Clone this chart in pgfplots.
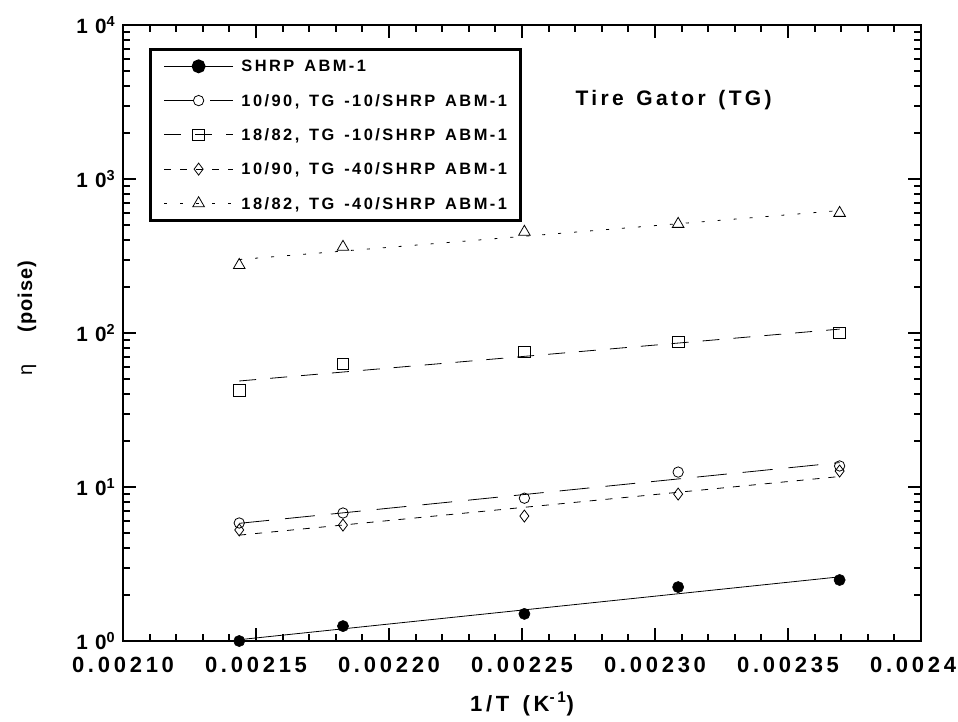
\documentclass[border=0pt]{standalone}
\usepackage{fontspec}
\setmainfont{Liberation Sans}[LetterSpace=12]
\newfontfamily\etafont{Liberation Sans}
\usepackage{pgfplots}
\pgfplotsset{compat=1.18}
\newcommand\xtickfont{\fontsize{16.5}{18}\selectfont\bfseries\addfontfeatures{LetterSpace=17}}
\newcommand\ytickfont{\fontsize{15.5}{18}\selectfont\bfseries}
\newcommand\legfont{\fontsize{12.3}{14}\selectfont\bfseries\addfontfeatures{LetterSpace=15}}
\newcommand\titlefont{\fontsize{15.75}{18}\selectfont\bfseries\addfontfeatures{LetterSpace=16}}
\newcommand\ws{\hspace{0.6em}}
\pgfplotsset{
  legA/.style={legend image code/.code={\draw[line width=0.6pt, solid] (0pt,0pt) -- (51.75pt,0pt); \draw[##1] plot coordinates {(25.9pt,0pt)};}},
  legB/.style={legend image code/.code={\draw[line width=0.6pt, dash pattern=on 22.5pt off 12pt] (0pt,0pt) -- (51.75pt,0pt); \draw[##1] plot coordinates {(25.9pt,0pt)};}},
  legC/.style={legend image code/.code={\draw[line width=0.6pt, dash pattern=on 12.75pt off 10.5pt] (0pt,0pt) -- (51.75pt,0pt); \draw[##1] plot coordinates {(25.9pt,0pt)};}},
  legD/.style={legend image code/.code={\draw[line width=0.6pt, dash pattern=on 5.25pt off 6.75pt] (0pt,0pt) -- (51.75pt,0pt); \draw[##1] plot coordinates {(25.9pt,0pt)};}},
  legE/.style={legend image code/.code={\draw[line width=0.6pt, dash pattern=on 2.25pt off 9.75pt] (0pt,0pt) -- (51.75pt,0pt); \draw[##1] plot coordinates {(25.9pt,0pt)};}},
}
\begin{document}
\begin{tikzpicture}
\begin{axis}[
  name=ax,
  scale only axis,
  width=598.5pt, height=462pt,
  xmin=0.0021, xmax=0.0024,
  ymode=log, ymin=1, ymax=10000,
  xtick={0.0021,0.00215,0.0022,0.00225,0.0023,0.00235,0.0024},
  xticklabels={0.00210,0.00215,0.00220,0.00225,0.00230,0.00235,0.00240},
  scaled x ticks=false,
  minor x tick num=4,
  ytick={1,10,100,1000,10000},
  yticklabels={1\hspace{0.35em}0\textsuperscript{0},1\hspace{0.35em}0\textsuperscript{1},1\hspace{0.35em}0\textsuperscript{2},1\hspace{0.35em}0\textsuperscript{3},1\hspace{0.35em}0\textsuperscript{4}},
  tick align=inside,
  major tick length=9.75pt,
  minor tick length=5.25pt,
  every major tick/.style={black, line width=1.8pt},
  every minor tick/.style={black, line width=1.5pt},
  axis line style={line width=2pt},
  xticklabel style={font=\xtickfont, anchor=base, yshift=-23.25pt},
  yticklabel style={font=\ytickfont, anchor=east, inner sep=0pt, xshift=-5.5pt},
  xlabel={1/T\hspace{0.6em}(K\textsuperscript{-1})},
  xlabel style={font=\xtickfont, at={(axis description cs:0.5,0)}, anchor=base, yshift=-52.5pt},
  ylabel={{\etafont\mdseries η}\hspace{1.6em}(poise)},
  ylabel style={font=\fontsize{15}{18}\selectfont\bfseries\addfontfeatures{LetterSpace=5}, at={(axis description cs:-0.1203,0.524)}, anchor=center},
  legend style={
    at={(0.0326,0.9627)}, anchor=north west,
    draw=black, line width=2pt,
    inner xsep=10pt, inner ysep=6.5pt,
    row sep=13.2pt, column sep=6pt,
    font=\legfont,
    nodes={inner sep=0pt, text height=10.5pt, text depth=2pt},
  },
  legend cell align=left,
]
% fitted lines
\addplot[black, line width=0.6pt, solid, forget plot] coordinates {(0.0021437,1.02) (0.0023694,2.61)};
\addplot[black, line width=0.6pt, dash pattern=on 22.5pt off 12pt, forget plot] coordinates {(0.0021437,5.81) (0.0023694,14.4)};
\addplot[black, line width=0.6pt, dash pattern=on 12.75pt off 10.5pt, forget plot] coordinates {(0.0021437,48.8) (0.0023694,106)};
\addplot[black, line width=0.6pt, dash pattern=on 5.25pt off 6.75pt, forget plot] coordinates {(0.0021437,4.87) (0.0023694,11.7)};
\addplot[black, line width=0.6pt, dash pattern=on 2.25pt off 9.75pt, forget plot] coordinates {(0.0021437,300) (0.0023694,624)};
% data
\addplot[only marks, mark=*, mark size=4.2pt, black, fill=black, legA]
  coordinates {(0.0021437,1.00) (0.0021827,1.25) (0.0022509,1.50) (0.0023087,2.24) (0.0023694,2.49)};
\addlegendentry{SHRP\ws ABM-1}
\addplot[only marks, mark=o, mark size=3.9pt, black, fill=white, line width=0.6pt, legB]
  coordinates {(0.0021437,5.84) (0.0021827,6.78) (0.0022509,8.46) (0.0023087,12.5) (0.0023694,13.7)};
\addlegendentry{10/90,\ws TG\ws -10/SHRP\ws ABM-1}
\addplot[only marks, mark=square, mark size=4.4pt, black, fill=white, line width=0.6pt, legC]
  coordinates {(0.0021437,42.6) (0.0021827,62.9) (0.0022509,75.3) (0.0023087,87.4) (0.0023694,100)};
\addlegendentry{18/82,\ws TG\ws -10/SHRP\ws ABM-1}
\addplot[only marks, mark=diamond, mark size=4.5pt, black, fill=white, line width=0.6pt, legD]
  coordinates {(0.0021437,5.26) (0.0021827,5.66) (0.0022509,6.48) (0.0023087,9.0) (0.0023694,12.7)};
\addlegendentry{10/90,\ws TG\ws -40/SHRP\ws ABM-1}
\addplot[only marks, mark=triangle, mark size=5pt, black, fill=white, line width=0.6pt, legE]
  coordinates {(0.0021437,276) (0.0021827,362) (0.0022509,453) (0.0023087,510) (0.0023694,601)};
\addlegendentry{18/82,\ws TG\ws -40/SHRP\ws ABM-1}
\node[font=\titlefont] at (axis description cs:0.690,0.878) {Tire\ws Gator\ws (TG)};
\end{axis}
\pgfresetboundingbox
\path[use as bounding box] ([shift={(-92.25pt,-60pt)}]ax.south west) rectangle ([shift={(27.75pt,18.75pt)}]ax.north east);
\end{tikzpicture}
\end{document}
